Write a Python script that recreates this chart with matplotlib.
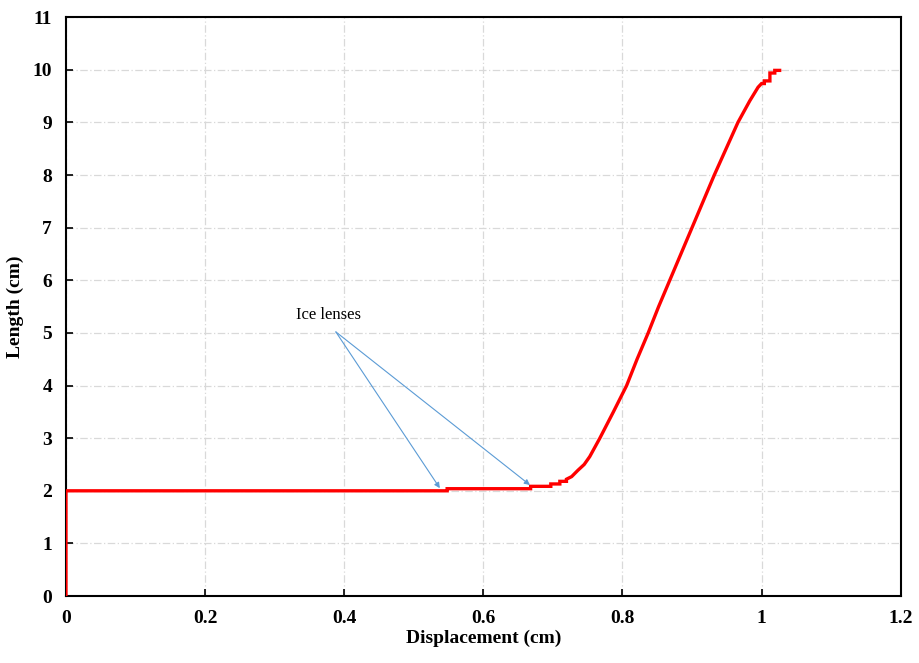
import matplotlib
matplotlib.use("Agg")
import matplotlib.pyplot as plt

# Data
displacement = [0, 0, 0.548, 0.548, 0.668, 0.668, 0.697, 0.697, 0.71, 0.71,
                0.7195, 0.7195, 0.727, 0.736, 0.745, 0.753, 0.7675, 0.787, 0.806,
                0.821, 0.837, 0.852, 0.868, 0.884, 0.900, 0.916, 0.932,
                0.949, 0.966, 0.983, 0.995, 1.0, 1.004, 1.004, 1.012, 1.012,
                1.019, 1.019, 1.026]
length = [0, 2.0, 2.0, 2.04, 2.04, 2.085, 2.085, 2.13, 2.13, 2.18, 2.18, 2.22,
          2.27, 2.39, 2.5, 2.65, 3.0, 3.5, 4.0, 4.5, 5.0, 5.5, 6.0, 6.5, 7.0,
          7.5, 8.0, 8.5, 9.0, 9.41, 9.67, 9.74, 9.74, 9.79, 9.79, 9.94,
          9.94, 9.99, 9.99]

x_ticks = [0, 0.2, 0.4, 0.6, 0.8, 1.0, 1.2]
x_tick_labels = ["0", "0.2", "0.4", "0.6", "0.8", "1", "1.2"]
y_ticks = list(range(0, 12))

annotation_text = "Ice lenses"
annotation_xy = (0.378, 5.34)
arrow_targets = [(0.5375, 2.05), (0.667, 2.11)]

plt.rcParams['font.family'] = ['Liberation Serif', 'DejaVu Serif']

fig = plt.figure(figsize=(9.2, 6.63), dpi=100)
ax = fig.add_axes([0.0717, 0.101, 0.9073, 0.873])

ax.plot(displacement, length, color='#ff0000', lw=2.4, solid_joinstyle='miter', zorder=3)

ax.set_xlim(0, 1.2)
ax.set_ylim(0, 11)
ax.set_xticks(x_ticks)
ax.set_xticklabels(x_tick_labels)
ax.set_yticks(y_ticks)

ax.grid(True, color='#d9d9d9', linestyle=(0, (6, 2, 1, 2)), lw=0.9)
ax.set_axisbelow(True)

for s in ax.spines.values():
    s.set_linewidth(1.5)
    s.set_color('black')

ax.tick_params(direction='in', length=5, width=1.2, labelsize=14, pad=10)
for lab in ax.get_xticklabels() + ax.get_yticklabels():
    lab.set_fontweight('bold')

ax.set_xlabel("Displacement (cm)", fontsize=14, fontweight='bold', labelpad=2)
ax.set_ylabel("Length (cm)", fontsize=14, fontweight='bold', labelpad=6)

ax.text(annotation_xy[0], annotation_xy[1], annotation_text, fontsize=12,
        ha='center', va='center')
for tx, ty in arrow_targets:
    ax.annotate("", xy=(tx, ty), xytext=(annotation_xy[0] + 0.01, annotation_xy[1] - 0.32),
                arrowprops=dict(arrowstyle='-|>', color='#5b9bd5', lw=0.8,
                                mutation_scale=8, shrinkA=0, shrinkB=0))

fig.savefig("out.png", dpi=100)
